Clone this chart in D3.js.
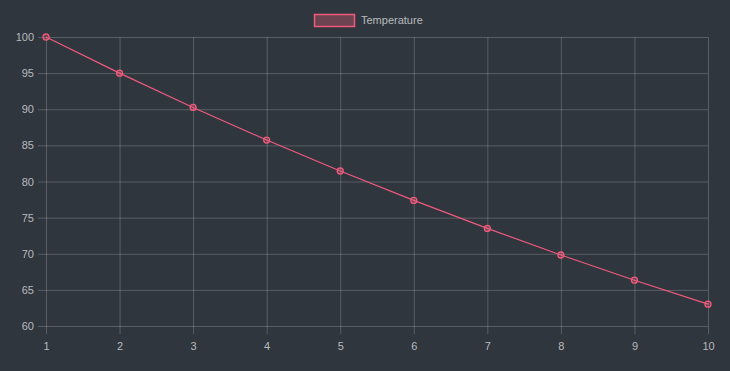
<!DOCTYPE html>
<html>
<head>
<meta charset="utf-8">
<script src="https://cdn.jsdelivr.net/npm/d3@7"></script>
<style>
  body { margin: 0; background: #2f363d; }
  svg { display: block; font-family: "Liberation Sans", Arial, sans-serif; }
</style>
</head>
<body>
<div id="chart"></div>
<script>
// data
var steps = [1, 2, 3, 4, 5, 6, 7, 8, 9, 10];
var temperature = [100, 95, 90.25, 85.74, 81.45, 77.38, 73.51, 69.83, 66.34, 63.02];
var yTicks = [60, 65, 70, 75, 80, 85, 90, 95, 100];

var W = 730, H = 371;
var margin = { top: 37, right: 22, bottom: 45, left: 46 };
var width = W - margin.left - margin.right;
var height = H - margin.top - margin.bottom;

var pink = "rgb(240,90,125)";
var gridColor = "rgba(255,255,255,0.2)";
var textColor = "#b8babd";

var svg = d3.select("#chart").append("svg")
    .attr("width", W)
    .attr("height", H);

svg.append("rect").attr("width", W).attr("height", H).attr("fill", "#2f363d");

var g = svg.append("g")
    .attr("transform", "translate(" + margin.left + "," + margin.top + ")");

var x = d3.scaleLinear().domain([1, 10]).range([0, width]);
var y = d3.scaleLinear().domain([60, 100]).range([height, 0]);

// gridlines with tick marks sticking out
var xAxis = d3.axisBottom(x).tickValues(steps).tickSize(-height - 8).tickPadding(8).tickFormat(d3.format("d"));
var yAxis = d3.axisLeft(y).tickValues(yTicks).tickSize(-width - 8).tickPadding(4);

var gx = g.append("g")
    .attr("transform", "translate(0," + (height + 8) + ")")
    .call(xAxis);
var gy = g.append("g")
    .attr("transform", "translate(-8,0)")
    .call(yAxis);

[gx, gy].forEach(function(a) {
    a.select(".domain").remove();
    a.selectAll(".tick line").attr("stroke", gridColor);
    a.selectAll(".tick text")
        .attr("fill", textColor)
        .style("font-size", "11px");
});

// line
var line = d3.line()
    .x(function(d, i) { return x(steps[i]); })
    .y(function(d) { return y(d); });

g.append("path")
    .datum(temperature)
    .attr("fill", "none")
    .attr("stroke", pink)
    .attr("stroke-width", 1.2)
    .attr("d", line);

g.selectAll(".pt")
    .data(temperature)
  .enter().append("circle")
    .attr("class", "pt")
    .attr("cx", function(d, i) { return x(steps[i]); })
    .attr("cy", function(d) { return y(d); })
    .attr("r", 3)
    .attr("fill", "rgba(255,99,132,0.25)")
    .attr("stroke", pink)
    .attr("stroke-width", 1.3);

// legend
var legend = svg.append("g").attr("transform", "translate(314,14)");
legend.append("rect")
    .attr("x", 0.5).attr("y", 0.5)
    .attr("width", 40).attr("height", 12)
    .attr("fill", "rgba(255,99,132,0.3)")
    .attr("stroke", pink)
    .attr("stroke-width", 1.5);
legend.append("text")
    .attr("x", 47).attr("y", 10)
    .attr("fill", textColor)
    .style("font-size", "11px")
    .text("Temperature");
</script>
</body>
</html>
